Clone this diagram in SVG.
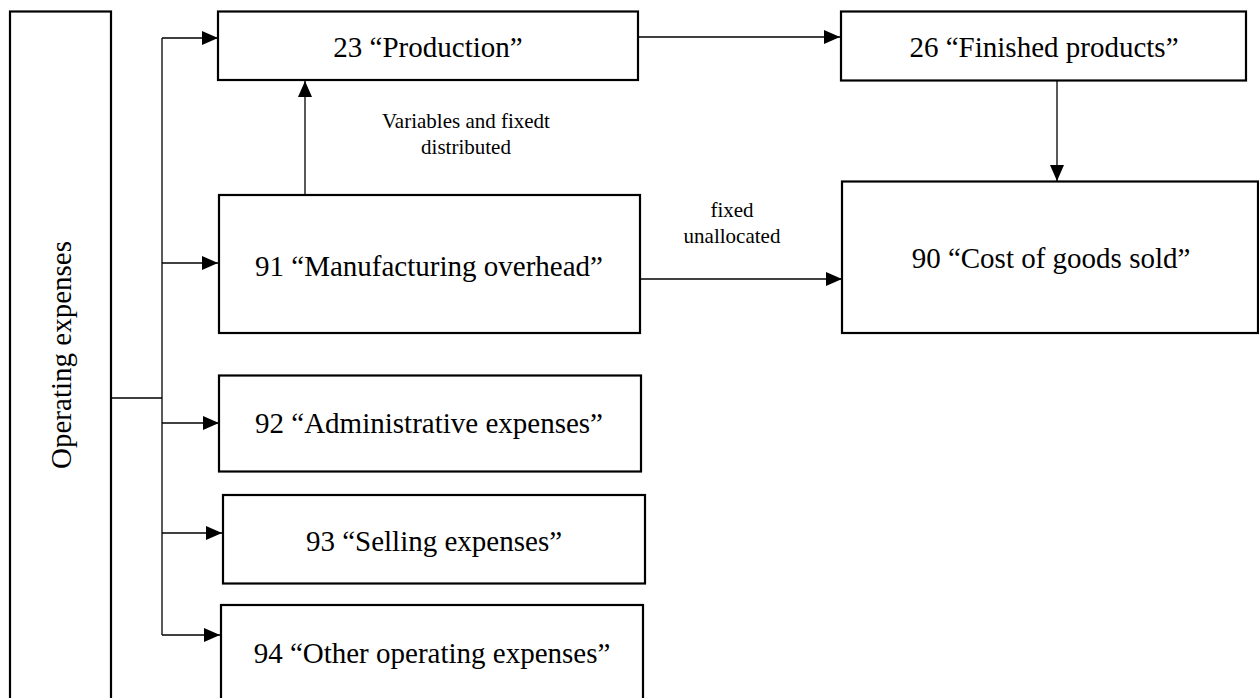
<svg xmlns="http://www.w3.org/2000/svg" width="1259" height="698" viewBox="0 0 1259 698">
<style>
.box{fill:#fff;stroke:#000;stroke-width:2.2}
.t{font-family:"Liberation Serif","Times New Roman",serif;font-size:29px;fill:#000;text-anchor:middle}
.lbl{font-family:"Liberation Serif","Times New Roman",serif;font-size:21px;fill:#000;text-anchor:middle}
.c{fill:none;stroke:#000;stroke-width:1.3}
.ca{fill:none;stroke:#000;stroke-width:1.3;marker-end:url(#arr)}
</style>
<defs>
<marker id="arr" markerUnits="userSpaceOnUse" markerWidth="16" markerHeight="14" refX="16" refY="7" orient="auto">
<path d="M0,0 L16,7 L0,14 Z" fill="#000"/>
</marker>
</defs>
<rect width="1259" height="698" fill="#fff"/>
<g id="connectors">
<line class="c" x1="111" y1="398" x2="162" y2="398"/>
<line class="c" x1="162" y1="38" x2="162" y2="635"/>
<line class="ca" x1="162" y1="38" x2="218" y2="38"/>
<line class="ca" x1="162" y1="263" x2="218" y2="263"/>
<line class="ca" x1="162" y1="423" x2="219" y2="423"/>
<line class="ca" x1="162" y1="533" x2="222" y2="533"/>
<line class="ca" x1="162" y1="635" x2="220" y2="635"/>
<line class="ca" x1="639" y1="37" x2="840" y2="37"/>
<line class="ca" x1="1057" y1="81" x2="1057" y2="181"/>
<line class="ca" x1="305" y1="195" x2="305" y2="81"/>
<line class="ca" x1="641" y1="279" x2="842" y2="279"/>
<text class="lbl" x="466" y="128">Variables and fixedt</text>
<text class="lbl" x="466" y="154">distributed</text>
<text class="lbl" x="732" y="217">fixed</text>
<text class="lbl" x="732" y="243">unallocated</text>
</g>
<g id="opex">
<rect class="box" x="10" y="11.5" width="101" height="700"/>
<text class="t" transform="translate(71,355) rotate(-90)">Operating expenses</text>
</g>
<g id="n23">
<rect class="box" x="218" y="11.5" width="420" height="68.5"/>
<text class="t" x="428" y="57">23 “Production”</text>
</g>
<g id="n26">
<rect class="box" x="841" y="11.5" width="405" height="69"/>
<text class="t" x="1044" y="57">26 “Finished products”</text>
</g>
<g id="n90">
<rect class="box" x="842" y="181.5" width="416" height="151.5"/>
<text class="t" x="1051" y="268">90 “Cost of goods sold”</text>
</g>
<g id="n91">
<rect class="box" x="219" y="195" width="421" height="138"/>
<text class="t" x="429" y="276">91 “Manufacturing overhead”</text>
</g>
<g id="n92">
<rect class="box" x="219" y="375.5" width="422" height="96"/>
<text class="t" x="429" y="433">92 “Administrative expenses”</text>
</g>
<g id="n93">
<rect class="box" x="223" y="495" width="422" height="88.5"/>
<text class="t" x="434" y="551">93 “Selling expenses”</text>
</g>
<g id="n94">
<rect class="box" x="221" y="605" width="422" height="110"/>
<text class="t" x="432" y="663">94 “Other operating expenses”</text>
</g>
</svg>
